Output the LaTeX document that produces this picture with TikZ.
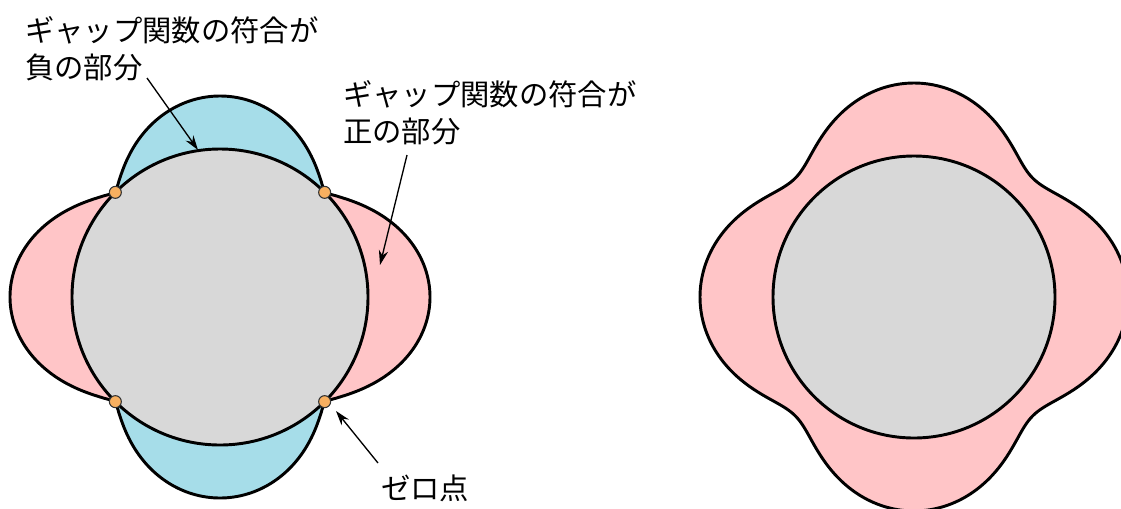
\documentclass[tikz,border=0pt]{standalone}
\usepackage{fontspec}
\newfontfamily\cjk{Noto Sans CJK JP}
\usetikzlibrary{arrows.meta}
\definecolor{negblue}{RGB}{166,221,233}
\definecolor{pospink}{RGB}{255,197,199}
\definecolor{fsgray}{RGB}{216,216,216}
\definecolor{nodeorange}{RGB}{248,176,96}
\tikzset{
  outline/.style={draw=black, line width=2.2pt, line join=round},
  lbl/.style={font=\cjk\fontsize{22}{27.5}\selectfont, align=left, inner sep=0pt, anchor=west},
  pointer/.style={-{Stealth[length=11pt,width=7pt]}, line width=1pt},
  zeropt/.style={circle, fill=nodeorange, draw=black!80, line width=0.8pt, minimum size=9pt, inner sep=0pt}
}
\newcommand{\rd}[1]{(148+(abs(cos(2*#1)))^1.15*(57.5+4.5*cos(2*#1)))}
\newcommand{\rs}[1]{(145.31+64.83*sqrt(cos(2*#1)*cos(2*#1)+0.1225))}
\begin{document}
\begin{tikzpicture}[x=0.75pt,y=-0.75pt]
\useasboundingbox (0,0) rectangle (1121,508);
% ---------- left: d-wave ----------
\coordinate (cL) at (220,297);
\fill[pospink] plot[domain=0:360,samples=361] ({220+\rd{\x}*cos(\x)},{297+\rd{\x}*sin(\x)}) -- cycle;
\fill[negblue] (cL) -- plot[domain=45:135,samples=91] ({220+\rd{\x}*cos(\x)},{297+\rd{\x}*sin(\x)}) -- cycle;
\fill[negblue] (cL) -- plot[domain=225:315,samples=91] ({220+\rd{\x}*cos(\x)},{297+\rd{\x}*sin(\x)}) -- cycle;
\draw[outline] plot[domain=0:360,samples=361] ({220+\rd{\x}*cos(\x)},{297+\rd{\x}*sin(\x)}) -- cycle;
\node[outline, fill=fsgray, circle, minimum size=222pt, inner sep=0pt] (fsL) at (cL) {};
\node[zeropt] (z1) at (324.65,192.35) {};
\node[zeropt] (z2) at (115.35,192.35) {};
\node[zeropt] (z3) at (115.35,401.65) {};
\node[zeropt] (z4) at (324.65,401.65) {};
% ---------- right: anisotropic s-wave ----------
\coordinate (cR) at (914,297);
\draw[outline, fill=pospink] plot[domain=0:360,samples=361,smooth] ({914+\rs{\x}*cos(\x)},{297+\rs{\x}*sin(\x)}) -- cycle;
\node[outline, fill=fsgray, circle, minimum size=211.5pt, inner sep=0pt] (fsR) at (cR) {};
% ---------- labels ----------
\node[lbl] (neg) at (25,48.5) {ギャップ関数の符合が\\負の部分};
\node[lbl] (pos) at (343,112.5) {ギャップ関数の符合が\\正の部分};
\node[lbl] (zero) at (381,488) {ゼロ点};
\coordinate (negstart) at (147,78);
\coordinate (negtip) at (198,150);
\coordinate (posstart) at (407,155);
\coordinate (postip) at (380,265);
\coordinate (zerostart) at (378,463);
\coordinate (zerotip) at (336,411);
\draw[pointer] (negstart) -- (negtip);
\draw[pointer] (posstart) -- (postip);
\draw[pointer] (zerostart) -- (zerotip);
\end{tikzpicture}
\end{document}
